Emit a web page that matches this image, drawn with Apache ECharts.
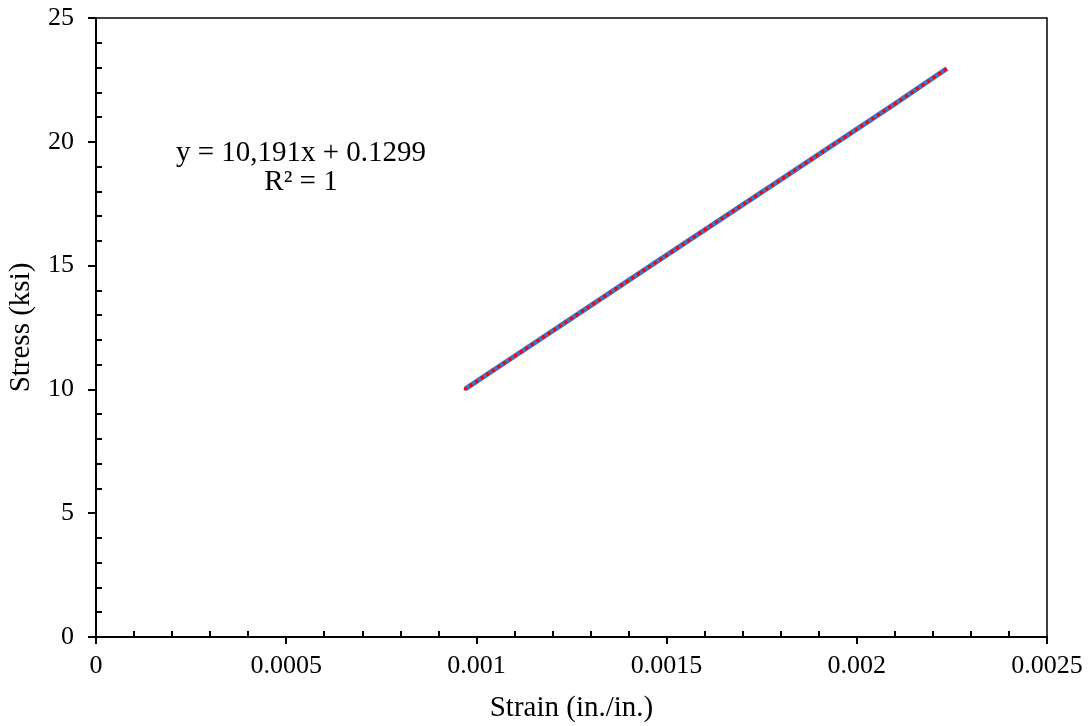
<!DOCTYPE html>
<html><head><meta charset="utf-8">
<script src="https://cdn.jsdelivr.net/npm/echarts@6/dist/echarts.min.js"></script>
<style>html,body{margin:0;padding:0;background:#fff}#c{width:1088px;height:726px}</style>
</head><body><div id="c"></div>
<script>
const strain = [0.000971, 0.0011, 0.00125, 0.0014, 0.0015, 0.00165, 0.0018, 0.0019, 0.002, 0.0021, 0.002237];
const stress = [10.02, 11.34, 12.87, 14.40, 15.42, 16.95, 18.47, 19.49, 20.51, 21.53, 22.96];
const xTickLabels = ['0', '0.0005', '0.001', '0.0015', '0.002', '0.0025'];
const yTickLabels = ['0', '5', '10', '15', '20', '25'];
const eqText = 'y = 10,191x + 0.1299';
const r2Text = 'R² = 1';

const pts = strain.map((x, i) => [x, stress[i]]);
const font = 'Liberation Serif';
const chart = echarts.init(document.getElementById('c'));
chart.setOption({
  animation: false,
  backgroundColor: '#fff',
  grid: {left: 96, top: 18, right: 41, bottom: 89, show: true, borderColor: '#000', borderWidth: 1.5,
    containLabel: false, outerBoundsMode: 'none'},
  xAxis: {
    type: 'value', min: 0, max: 0.0025, interval: 0.0005,
    name: 'Strain (in./in.)', nameLocation: 'middle', nameGap: 57,
    nameTextStyle: {fontFamily: font, fontSize: 29, color: '#000'},
    axisLine: {lineStyle: {color: '#000', width: 2}},
    axisTick: {show: true, inside: false, length: 7, lineStyle: {color: '#000', width: 2}},
    minorTick: {show: true, splitNumber: 5, length: -6, lineStyle: {color: '#000', width: 2}},
    splitLine: {show: false},
    axisLabel: {fontFamily: font, fontSize: 26, color: '#000', margin: 16,
      formatter: (v) => xTickLabels[Math.round(v / 0.0005)]}
  },
  yAxis: {
    type: 'value', min: 0, max: 25, interval: 5,
    name: 'Stress (ksi)', nameLocation: 'middle', nameGap: 60,
    nameTextStyle: {fontFamily: font, fontSize: 29, color: '#000'},
    axisLine: {lineStyle: {color: '#000', width: 2}},
    axisTick: {show: true, inside: false, length: 8, lineStyle: {color: '#000', width: 2}},
    minorTick: {show: true, splitNumber: 5, length: -6, lineStyle: {color: '#000', width: 2}},
    splitLine: {show: false},
    axisLabel: {fontFamily: font, fontSize: 26, color: '#000', margin: 22,
      formatter: (v) => yTickLabels[Math.round(v / 5)]}
  },
  graphic: [
    {type: 'text', x: 301, y: 139, style: {text: eqText, font: '29px "Liberation Serif"', fill: '#000', textAlign: 'center'}},
    {type: 'text', x: 301, y: 168, style: {text: r2Text, font: '29px "Liberation Serif"', fill: '#000', textAlign: 'center'}}
  ],
  series: [
    {type: 'line', data: pts, showSymbol: false, lineStyle: {color: '#4472C4', width: 5}, z: 2},
    {type: 'line', data: pts, showSymbol: false, lineStyle: {color: '#FF0000', width: 3.5, type: [0.1, 6.6], cap: 'round'}, z: 3}
  ]
});
</script></body></html>
